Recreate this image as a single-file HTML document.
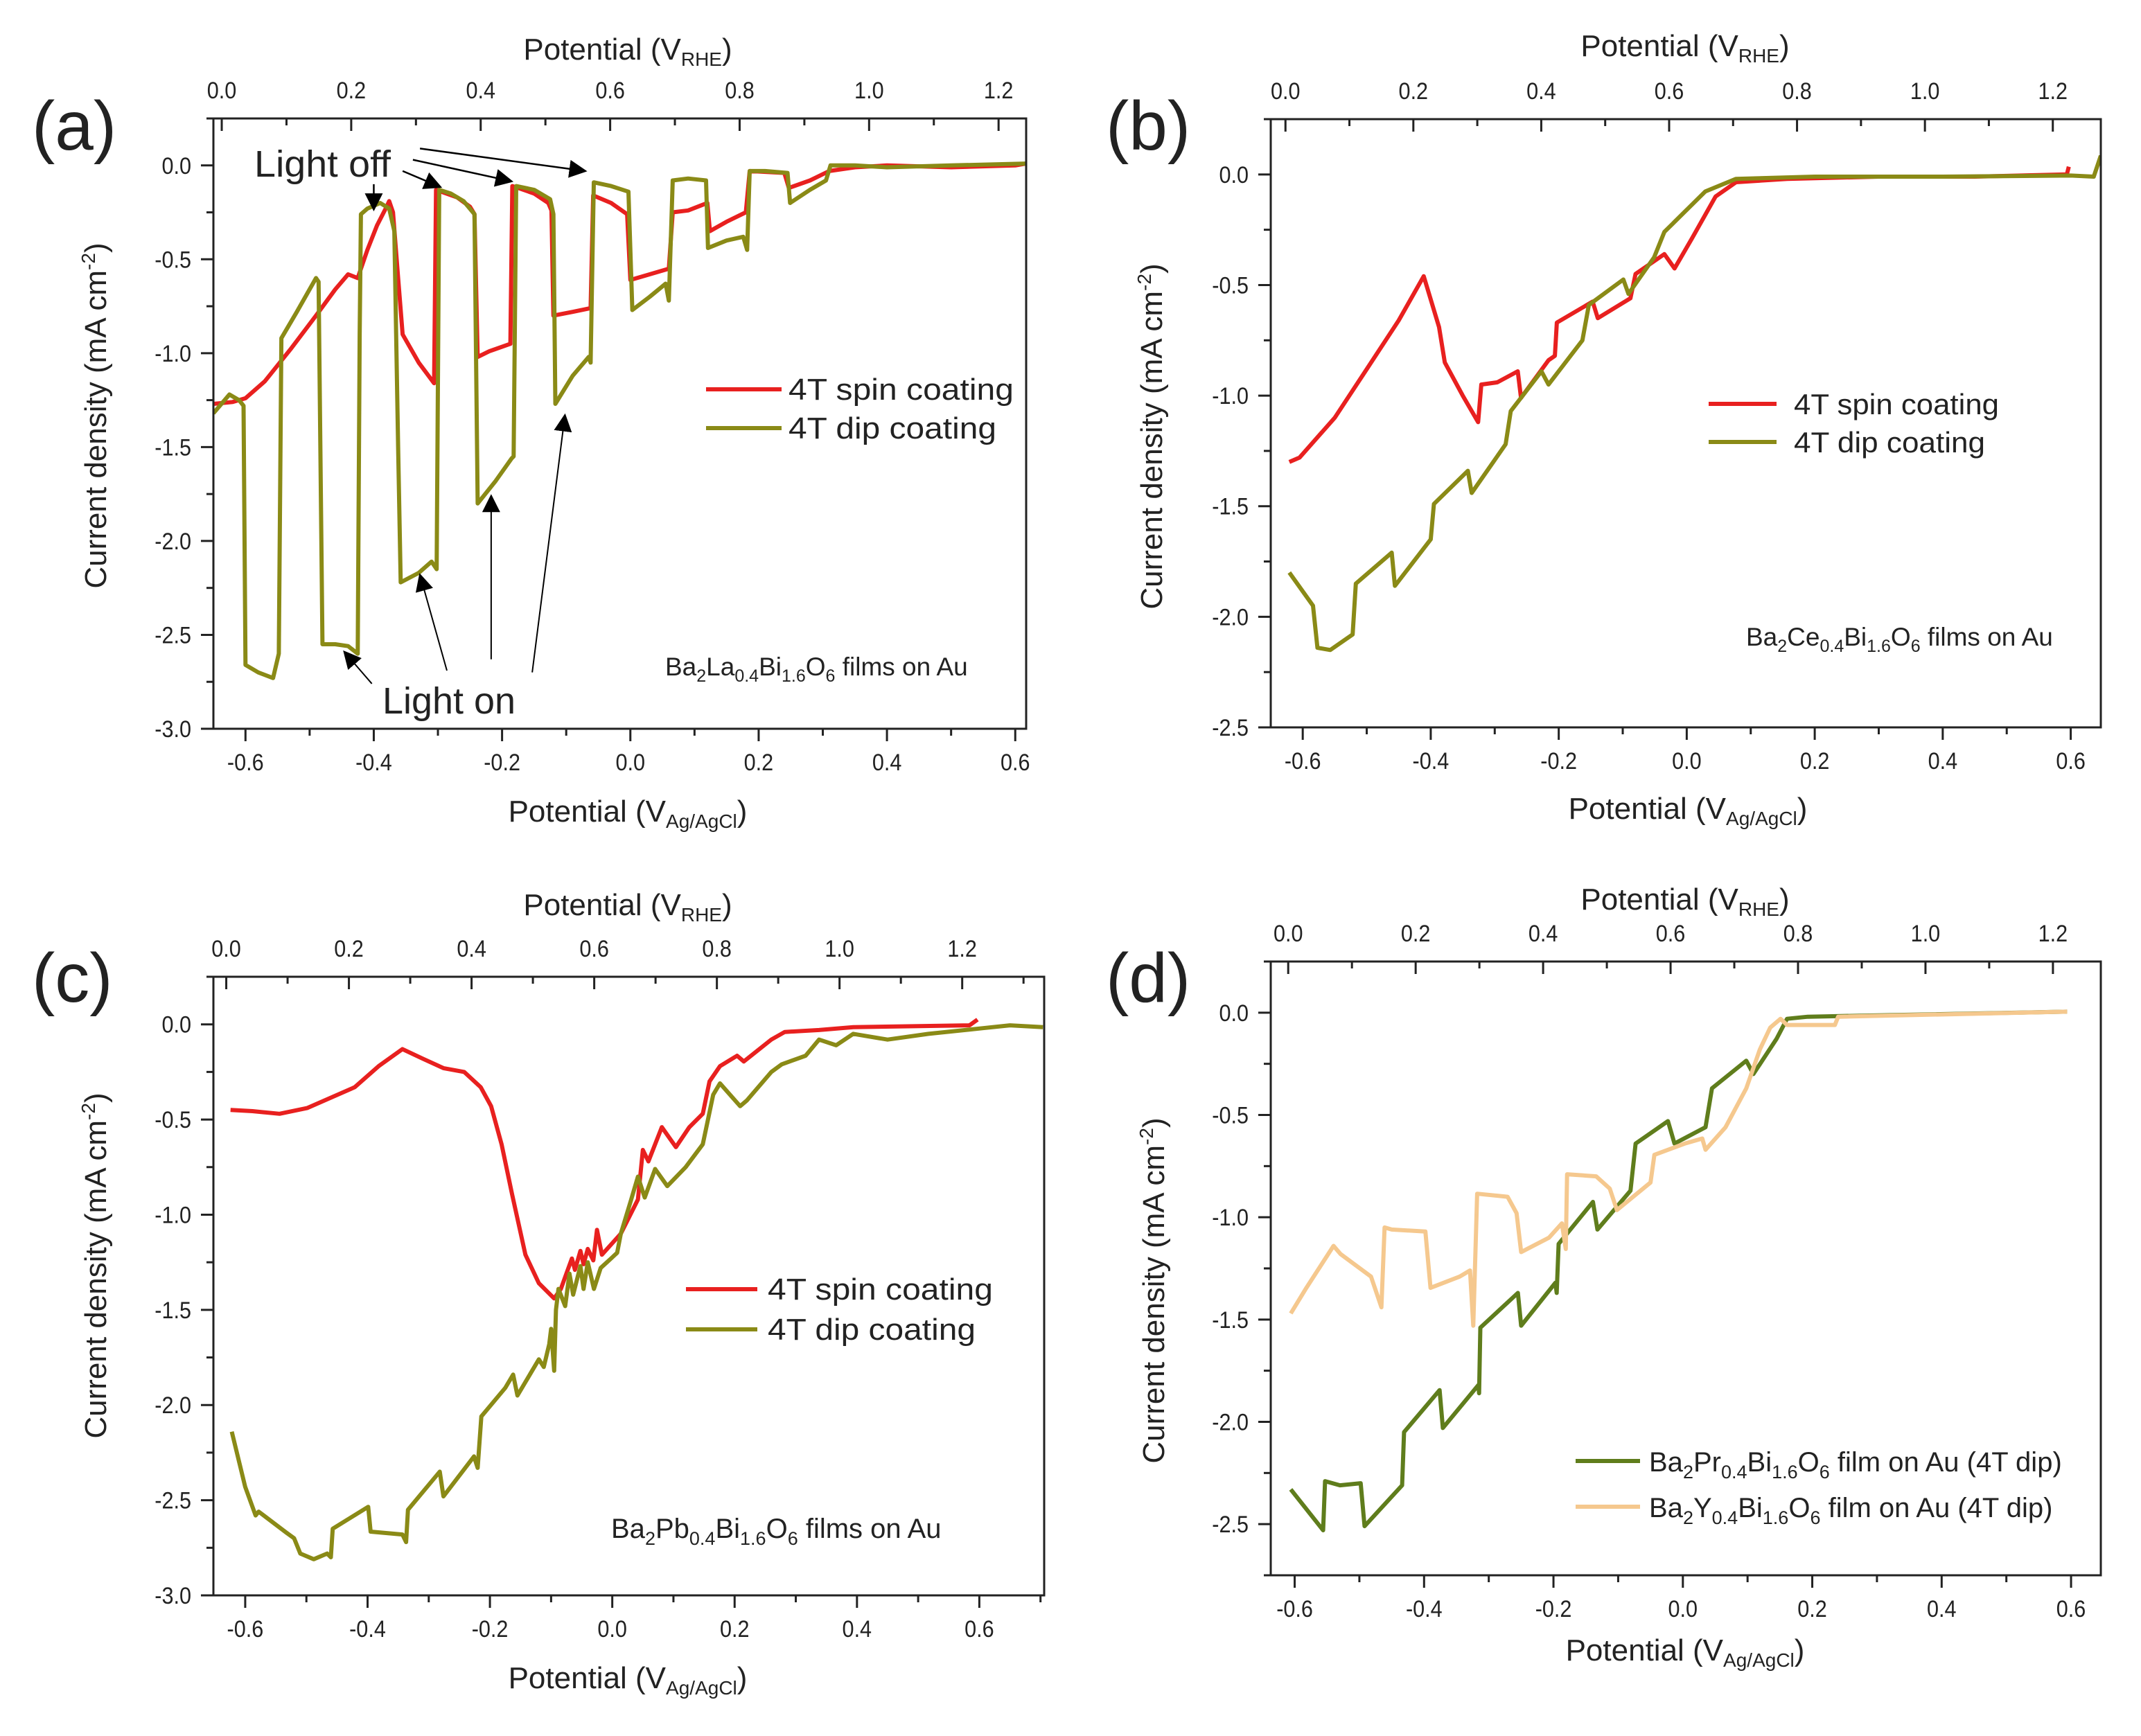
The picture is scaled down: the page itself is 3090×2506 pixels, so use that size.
<!DOCTYPE html>
<html><head><meta charset="utf-8"><style>
html,body{margin:0;padding:0;background:#fff;}
svg{display:block;font-family:"Liberation Sans",Arial,sans-serif;fill:#222;}
</style></head><body>
<svg id="fig" xmlns="http://www.w3.org/2000/svg" width="3090" height="2506" viewBox="0 0 3090 2506">
<defs>
<marker id="ah2" viewBox="0 0 10 10" refX="9" refY="5" markerWidth="26" markerHeight="26" markerUnits="userSpaceOnUse" orient="auto"><path d="M0,0 L10,5 L0,10 z" fill="#000"/></marker>
</defs>
<rect x="0" y="0" width="3090" height="2506" fill="#fff"/>

<g>
<text x="46" y="216" font-size="100">(a)</text>
<text x="906" y="86" font-size="44" text-anchor="middle">Potential (V<tspan font-size="28" dy="9">RHE</tspan><tspan dy="-9">)</tspan></text>
<text x="906" y="1186" font-size="44" text-anchor="middle">Potential (V<tspan font-size="28" dy="9">Ag/AgCl</tspan><tspan dy="-9">)</tspan></text>
<text transform="translate(153,600) rotate(-90)" font-size="44" text-anchor="middle">Current density (mA cm<tspan font-size="28" dy="-16">-2</tspan><tspan dy="16">)</tspan></text>
<text x="960" y="975" font-size="37">Ba<tspan font-size="25" dy="9">2</tspan><tspan dy="-9">La</tspan><tspan font-size="25" dy="9">0.4</tspan><tspan dy="-9">Bi</tspan><tspan font-size="25" dy="9">1.6</tspan><tspan dy="-9">O</tspan><tspan font-size="25" dy="9">6</tspan><tspan dy="-9"> films on Au</tspan></text>
<text x="367" y="255" font-size="54" textLength="197" lengthAdjust="spacingAndGlyphs">Light off</text>
<text x="552" y="1030" font-size="54" textLength="192" lengthAdjust="spacingAndGlyphs">Light on</text>
<text x="1138" y="577" font-size="44" textLength="325" lengthAdjust="spacingAndGlyphs">4T spin coating</text>
<text x="1138" y="633" font-size="44" textLength="300" lengthAdjust="spacingAndGlyphs">4T dip coating</text>
</g>

<g>
<text x="1596" y="216" font-size="100">(b)</text>
<text x="2432" y="81" font-size="44" text-anchor="middle">Potential (V<tspan font-size="28" dy="9">RHE</tspan><tspan dy="-9">)</tspan></text>
<text x="2436" y="1182" font-size="44" text-anchor="middle">Potential (V<tspan font-size="28" dy="9">Ag/AgCl</tspan><tspan dy="-9">)</tspan></text>
<text transform="translate(1677,630) rotate(-90)" font-size="44" text-anchor="middle">Current density (mA cm<tspan font-size="28" dy="-16">-2</tspan><tspan dy="16">)</tspan></text>
<text x="2520" y="932" font-size="37">Ba<tspan font-size="25" dy="9">2</tspan><tspan dy="-9">Ce</tspan><tspan font-size="25" dy="9">0.4</tspan><tspan dy="-9">Bi</tspan><tspan font-size="25" dy="9">1.6</tspan><tspan dy="-9">O</tspan><tspan font-size="25" dy="9">6</tspan><tspan dy="-9"> films on Au</tspan></text>
<text x="2589" y="598" font-size="42" textLength="296" lengthAdjust="spacingAndGlyphs">4T spin coating</text>
<text x="2589" y="653" font-size="42" textLength="276" lengthAdjust="spacingAndGlyphs">4T dip coating</text>
</g>

<g>
<text x="46" y="1446" font-size="100">(c)</text>
<text x="906" y="1321" font-size="44" text-anchor="middle">Potential (V<tspan font-size="28" dy="9">RHE</tspan><tspan dy="-9">)</tspan></text>
<text x="906" y="2437" font-size="44" text-anchor="middle">Potential (V<tspan font-size="28" dy="9">Ag/AgCl</tspan><tspan dy="-9">)</tspan></text>
<text transform="translate(153,1827) rotate(-90)" font-size="44" text-anchor="middle">Current density (mA cm<tspan font-size="28" dy="-16">-2</tspan><tspan dy="16">)</tspan></text>
<text x="882" y="2220" font-size="40">Ba<tspan font-size="27" dy="10">2</tspan><tspan dy="-10">Pb</tspan><tspan font-size="27" dy="10">0.4</tspan><tspan dy="-10">Bi</tspan><tspan font-size="27" dy="10">1.6</tspan><tspan dy="-10">O</tspan><tspan font-size="27" dy="10">6</tspan><tspan dy="-10"> films on Au</tspan></text>
<text x="1108" y="1876" font-size="44" textLength="325" lengthAdjust="spacingAndGlyphs">4T spin coating</text>
<text x="1108" y="1934" font-size="44" textLength="300" lengthAdjust="spacingAndGlyphs">4T dip coating</text>
</g>

<g>
<text x="1596" y="1446" font-size="100">(d)</text>
<text x="2432" y="1313" font-size="44" text-anchor="middle">Potential (V<tspan font-size="28" dy="9">RHE</tspan><tspan dy="-9">)</tspan></text>
<text x="2432" y="2397" font-size="44" text-anchor="middle">Potential (V<tspan font-size="28" dy="9">Ag/AgCl</tspan><tspan dy="-9">)</tspan></text>
<text transform="translate(1680,1863) rotate(-90)" font-size="44" text-anchor="middle">Current density (mA cm<tspan font-size="28" dy="-16">-2</tspan><tspan dy="16">)</tspan></text>
<text x="2380" y="2124" font-size="40">Ba<tspan font-size="27" dy="10">2</tspan><tspan dy="-10">Pr</tspan><tspan font-size="27" dy="10">0.4</tspan><tspan dy="-10">Bi</tspan><tspan font-size="27" dy="10">1.6</tspan><tspan dy="-10">O</tspan><tspan font-size="27" dy="10">6</tspan><tspan dy="-10"> film on Au (4T dip)</tspan></text>
<text x="2380" y="2190" font-size="40">Ba<tspan font-size="27" dy="10">2</tspan><tspan dy="-10">Y</tspan><tspan font-size="27" dy="10">0.4</tspan><tspan dy="-10">Bi</tspan><tspan font-size="27" dy="10">1.6</tspan><tspan dy="-10">O</tspan><tspan font-size="27" dy="10">6</tspan><tspan dy="-10"> film on Au (4T dip)</tspan></text>
</g>
</svg>
<script>
const aSpinX=[-0.65,-0.62,-0.6,-0.57,-0.53,-0.49,-0.46,-0.44,-0.425,-0.41,-0.395,-0.38,-0.376,-0.37,-0.362,-0.355,-0.33,-0.306,-0.303,-0.295,-0.27,-0.25,-0.243,-0.238,-0.22,-0.187,-0.184,-0.175,-0.15,-0.128,-0.123,-0.12,-0.09,-0.062,-0.058,-0.03,-0.005,0.0,0.03,0.06,0.066,0.09,0.12,0.124,0.15,0.18,0.186,0.24,0.247,0.28,0.31,0.35,0.4,0.5,0.6,0.617];
const aSpinY=[-1.27,-1.26,-1.24,-1.15,-0.98,-0.8,-0.66,-0.58,-0.6,-0.45,-0.32,-0.22,-0.19,-0.25,-0.6,-0.9,-1.05,-1.16,-0.13,-0.14,-0.17,-0.22,-0.26,-1.02,-0.99,-0.95,-0.11,-0.12,-0.15,-0.2,-0.24,-0.8,-0.78,-0.76,-0.16,-0.2,-0.26,-0.61,-0.58,-0.55,-0.25,-0.24,-0.2,-0.35,-0.3,-0.25,-0.03,-0.04,-0.12,-0.08,-0.03,-0.01,0,-0.01,0,0.01];
const aDipX=[-0.65,-0.625,-0.61,-0.603,-0.6,-0.58,-0.557,-0.548,-0.544,-0.52,-0.49,-0.486,-0.48,-0.46,-0.44,-0.425,-0.422,-0.42,-0.41,-0.39,-0.376,-0.368,-0.362,-0.358,-0.33,-0.31,-0.302,-0.298,-0.28,-0.26,-0.243,-0.238,-0.21,-0.185,-0.182,-0.178,-0.15,-0.125,-0.12,-0.117,-0.09,-0.065,-0.062,-0.057,-0.03,-0.003,0.003,0.03,0.055,0.06,0.064,0.066,0.09,0.118,0.121,0.15,0.176,0.182,0.186,0.21,0.245,0.249,0.28,0.305,0.312,0.35,0.4,0.5,0.617];
const aDipY=[-1.32,-1.22,-1.25,-1.28,-2.66,-2.7,-2.73,-2.6,-0.92,-0.78,-0.6,-0.62,-2.55,-2.55,-2.56,-2.6,-0.9,-0.26,-0.23,-0.2,-0.23,-0.35,-1.5,-2.22,-2.17,-2.11,-2.15,-0.13,-0.15,-0.19,-0.26,-1.8,-1.68,-1.56,-1.55,-0.11,-0.13,-0.18,-0.26,-1.27,-1.12,-1.02,-1.05,-0.09,-0.11,-0.14,-0.77,-0.7,-0.63,-0.72,-0.3,-0.08,-0.07,-0.08,-0.44,-0.4,-0.38,-0.45,-0.03,-0.03,-0.04,-0.2,-0.13,-0.08,0,0,-0.01,0,0.01];

const bSpinX=[-0.621,-0.605,-0.55,-0.5,-0.45,-0.411,-0.387,-0.378,-0.35,-0.326,-0.321,-0.296,-0.264,-0.259,-0.216,-0.206,-0.203,-0.147,-0.139,-0.088,-0.08,-0.035,-0.019,0.008,0.045,0.077,0.157,0.3,0.45,0.594,0.597];
const bSpinY=[-1.30,-1.28,-1.1,-0.88,-0.66,-0.46,-0.69,-0.85,-1.0,-1.12,-0.95,-0.94,-0.89,-1.01,-0.84,-0.82,-0.67,-0.575,-0.65,-0.56,-0.45,-0.36,-0.425,-0.29,-0.1,-0.035,-0.02,-0.01,-0.01,0.0,0.035];
const bDipX=[-0.621,-0.584,-0.577,-0.557,-0.522,-0.517,-0.461,-0.456,-0.4,-0.395,-0.342,-0.336,-0.283,-0.275,-0.227,-0.216,-0.163,-0.153,-0.099,-0.091,-0.051,-0.035,0.029,0.077,0.2,0.4,0.6,0.636,0.647];
const bDipY=[-1.80,-1.95,-2.14,-2.15,-2.08,-1.85,-1.71,-1.86,-1.65,-1.49,-1.34,-1.44,-1.22,-1.07,-0.89,-0.95,-0.75,-0.59,-0.475,-0.54,-0.375,-0.26,-0.077,-0.02,-0.01,-0.01,-0.005,-0.01,0.085];

const cSpinX=[-0.624,-0.588,-0.544,-0.499,-0.421,-0.382,-0.343,-0.31,-0.276,-0.242,-0.215,-0.198,-0.181,-0.164,-0.142,-0.12,-0.095,-0.084,-0.075,-0.066,-0.061,-0.052,-0.047,-0.04,-0.031,-0.025,-0.017,0.014,0.042,0.05,0.059,0.081,0.104,0.126,0.148,0.159,0.176,0.204,0.215,0.26,0.282,0.338,0.394,0.584,0.597];
const cSpinY=[-0.45,-0.456,-0.47,-0.44,-0.33,-0.22,-0.13,-0.18,-0.23,-0.25,-0.33,-0.43,-0.63,-0.89,-1.21,-1.36,-1.44,-1.39,-1.31,-1.23,-1.29,-1.19,-1.26,-1.18,-1.24,-1.08,-1.21,-1.10,-0.92,-0.66,-0.72,-0.54,-0.645,-0.54,-0.47,-0.30,-0.22,-0.165,-0.195,-0.08,-0.04,-0.03,-0.015,-0.005,0.025];
const cDipX=[-0.622,-0.6,-0.583,-0.578,-0.533,-0.52,-0.51,-0.488,-0.466,-0.46,-0.457,-0.399,-0.395,-0.343,-0.337,-0.334,-0.282,-0.276,-0.226,-0.22,-0.214,-0.175,-0.162,-0.155,-0.12,-0.112,-0.103,-0.1,-0.095,-0.092,-0.088,-0.077,-0.07,-0.064,-0.052,-0.047,-0.04,-0.03,-0.019,-0.002,0.008,0.014,0.031,0.042,0.053,0.07,0.09,0.12,0.148,0.165,0.176,0.209,0.22,0.26,0.277,0.316,0.338,0.366,0.394,0.45,0.517,0.606,0.65,0.704];
const cDipY=[-2.14,-2.43,-2.58,-2.56,-2.67,-2.7,-2.78,-2.81,-2.78,-2.8,-2.65,-2.535,-2.665,-2.68,-2.72,-2.55,-2.35,-2.48,-2.27,-2.33,-2.06,-1.91,-1.84,-1.95,-1.76,-1.8,-1.68,-1.6,-1.82,-1.5,-1.39,-1.48,-1.31,-1.42,-1.27,-1.39,-1.25,-1.39,-1.28,-1.23,-1.2,-1.10,-0.92,-0.80,-0.91,-0.76,-0.85,-0.75,-0.63,-0.37,-0.31,-0.43,-0.40,-0.25,-0.21,-0.165,-0.08,-0.11,-0.05,-0.08,-0.05,-0.02,-0.005,-0.015];

const dPrX=[-0.606,-0.556,-0.553,-0.53,-0.498,-0.492,-0.434,-0.431,-0.376,-0.371,-0.316,-0.315,-0.313,-0.255,-0.25,-0.197,-0.195,-0.192,-0.139,-0.132,-0.081,-0.073,-0.023,-0.013,0.035,0.045,0.098,0.109,0.145,0.161,0.193,0.32,0.594];
const dPrY=[-2.33,-2.53,-2.29,-2.31,-2.30,-2.51,-2.31,-2.05,-1.845,-2.03,-1.82,-1.86,-1.54,-1.37,-1.53,-1.32,-1.37,-1.13,-0.925,-1.06,-0.87,-0.64,-0.53,-0.64,-0.56,-0.37,-0.235,-0.30,-0.127,-0.03,-0.02,-0.012,0.005];
const dYX=[-0.606,-0.582,-0.54,-0.529,-0.482,-0.466,-0.461,-0.45,-0.398,-0.39,-0.345,-0.329,-0.324,-0.318,-0.271,-0.257,-0.25,-0.207,-0.187,-0.181,-0.179,-0.134,-0.113,-0.102,-0.05,-0.044,0.003,0.03,0.035,0.066,0.098,0.119,0.135,0.151,0.161,0.235,0.24,0.594];
const dYY=[-1.47,-1.345,-1.14,-1.18,-1.29,-1.44,-1.05,-1.06,-1.07,-1.345,-1.29,-1.26,-1.53,-0.885,-0.90,-0.98,-1.17,-1.10,-1.03,-1.155,-0.79,-0.80,-0.86,-0.965,-0.83,-0.695,-0.64,-0.615,-0.67,-0.56,-0.37,-0.18,-0.073,-0.03,-0.06,-0.06,-0.02,0.005];

const xTickLabels=["-0.6","-0.4","-0.2","0.0","0.2","0.4","0.6"];
const rheTickLabels=["0.0","0.2","0.4","0.6","0.8","1.0","1.2"];
const yTickLabels3=["0.0","-0.5","-1.0","-1.5","-2.0","-2.5","-3.0"];
const yTickLabels25=["0.0","-0.5","-1.0","-1.5","-2.0","-2.5"];

const lightOffArrows=[[-0.40,-0.10,-0.40,-0.235],[-0.355,-0.03,-0.296,-0.115],[-0.339,0.03,-0.185,-0.085],[-0.328,0.09,-0.07,-0.03]];
const lightOnArrows=[[-0.403,-2.76,-0.446,-2.59],[-0.286,-2.69,-0.328,-2.18],[-0.217,-2.63,-0.217,-1.76],[-0.153,-2.70,-0.102,-1.33]];

const NS="http://www.w3.org/2000/svg";
const svg=document.getElementById('fig');
function el(tag,attrs,parent){const e=document.createElementNS(NS,tag);for(const k in attrs)e.setAttribute(k,attrs[k]);(parent||svg).appendChild(e);return e;}

function tickText(g,x,y,s,anchor){
  const tx=el('text',{x:x,y:y,'font-size':34,'text-anchor':anchor,transform:'translate('+x+','+y+') scale(0.9,1) translate('+(-x)+','+(-y)+')'},g);
  tx.textContent=s;
  return tx;
}

function panel(id,cfg){
  const g=el('g',{});
  
  
  const sx=v=>cfg.L+(v-cfg.x0)/(cfg.x1-cfg.x0)*(cfg.R-cfg.L);
  const sy=v=>cfg.T+(cfg.y1-v)/(cfg.y1-cfg.y0)*(cfg.B-cfg.T);
  const rx=r=>sx(cfg.r0+r*(cfg.r12-cfg.r0)/1.2);
  const clip=el('clipPath',{id:'clip-'+id},g);
  el('rect',{x:cfg.L,y:cfg.T,width:cfg.R-cfg.L,height:cfg.B-cfg.T},clip);
  xTickLabels.forEach(s=>{
    const v=parseFloat(s),x=sx(v);
    const t=el('line',{x1:x,x2:x,y1:cfg.B,y2:cfg.B+18,stroke:'#222','stroke-width':3},g);
    
    
    const m=sx(v+0.1);
    if(v+0.1<=cfg.x1){const mt=el('line',{x1:m,x2:m,y1:cfg.B,y2:cfg.B+10,stroke:'#222','stroke-width':3},g);
      
      }
    const tx=tickText(g,x,cfg.B+60,s,'middle');
    
    
  });
  cfg.yLabels.forEach(s=>{
    const v=parseFloat(s),y=sy(v);
    const t=el('line',{x1:cfg.L-18,x2:cfg.L,y1:y,y2:y,stroke:'#222','stroke-width':3},g);
    
    
    if(v-0.25>=cfg.y0-0.001){const my=sy(v-0.25);
      const mt=el('line',{x1:cfg.L-10,x2:cfg.L,y1:my,y2:my,stroke:'#222','stroke-width':3},g);
      
      }
    if(v===0){const my2=sy(0.25);const mt2=el('line',{x1:cfg.L-10,x2:cfg.L,y1:my2,y2:my2,stroke:'#222','stroke-width':3},g);
      
      }
    const tx=tickText(g,cfg.L-32,y+12,s,'end');
    
    
  });
  rheTickLabels.forEach(s=>{
    const r=parseFloat(s),x=rx(r);
    const t=el('line',{x1:x,x2:x,y1:cfg.T,y2:cfg.T+18,stroke:'#222','stroke-width':3},g);
    
    
    const m=rx(r+0.1);
    if(m<cfg.R-4){const mt=el('line',{x1:m,x2:m,y1:cfg.T,y2:cfg.T+10,stroke:'#222','stroke-width':3},g);
      
      }
    const tx=tickText(g,x,cfg.T-29,s,'middle');
    
    
  });
  cfg.series.forEach(s=>{
    const pts=s.x.map((v,i)=>sx(v).toFixed(1)+','+sy(s.y[i]).toFixed(1)).join(' ');
    const p=el('polyline',{points:pts,fill:'none',stroke:s.color,'stroke-width':6,'stroke-linejoin':'round','clip-path':'url(#clip-'+id+')'},g);
    
    
  });
  const fr=el('rect',{x:cfg.L,y:cfg.T,width:cfg.R-cfg.L,height:cfg.B-cfg.T,fill:'none',stroke:'#222','stroke-width':3},g);
  
  
  cfg.legend.forEach(l=>{
    const ln=el('line',{x1:l.x1,x2:l.x2,y1:l.y,y2:l.y,stroke:l.color,'stroke-width':6},g);
    
    
  });
  return {sx,sy,g};
}

const RED='#e8201f', OLIVE='#8a8a16', GREEN='#5f7d1c', PEACH='#f5c88e';

const pa=panel('a',{L:308,R:1481,T:171,B:1052,x0:-0.65,x1:0.617,y0:-3.0,y1:0.25,r0:-0.637,r12:0.574,yLabels:yTickLabels3,
  series:[{x:aSpinX,y:aSpinY,color:RED,name:'series-a-spin-coating'},{x:aDipX,y:aDipY,color:OLIVE,name:'series-a-dip-coating'}],
  legend:[{x1:1019,x2:1128,y:562,color:RED,name:'legend-a-spin-line'},{x1:1019,x2:1128,y:618,color:OLIVE,name:'legend-a-dip-line'}]});
const pb=panel('b',{L:1834,R:3032,T:172,B:1050,x0:-0.65,x1:0.647,y0:-2.5,y1:0.25,r0:-0.627,r12:0.572,yLabels:yTickLabels25,
  series:[{x:bSpinX,y:bSpinY,color:RED,name:'series-b-spin-coating'},{x:bDipX,y:bDipY,color:OLIVE,name:'series-b-dip-coating'}],
  legend:[{x1:2466,x2:2564,y:583,color:RED,name:'legend-b-spin-line'},{x1:2466,x2:2564,y:638,color:OLIVE,name:'legend-b-dip-line'}]});
const pc=panel('c',{L:308,R:1507,T:1410,B:2303,x0:-0.652,x1:0.706,y0:-3.0,y1:0.25,r0:-0.631,r12:0.572,yLabels:yTickLabels3,
  series:[{x:cSpinX,y:cSpinY,color:RED,name:'series-c-spin-coating'},{x:cDipX,y:cDipY,color:OLIVE,name:'series-c-dip-coating'}],
  legend:[{x1:990,x2:1093,y:1861,color:RED,name:'legend-c-spin-line'},{x1:990,x2:1093,y:1919,color:OLIVE,name:'legend-c-dip-line'}]});
const pd=panel('d',{L:1834,R:3032,T:1388,B:2274,x0:-0.637,x1:0.646,y0:-2.75,y1:0.25,r0:-0.61,r12:0.572,yLabels:yTickLabels25,
  series:[{x:dPrX,y:dPrY,color:GREEN,name:'series-d-pr-film'},{x:dYX,y:dYY,color:PEACH,name:'series-d-y-film'}],
  legend:[{x1:2274,x2:2367,y:2109,color:GREEN,name:'legend-d-pr-line'},{x1:2274,x2:2367,y:2175,color:PEACH,name:'legend-d-y-line'}]});

lightOffArrows.forEach(a=>{
  const l=el('line',{x1:pa.sx(a[0]),y1:pa.sy(a[1]),x2:pa.sx(a[2]),y2:pa.sy(a[3]),stroke:'#000','stroke-width':2.5,'marker-end':'url(#ah2)'});
  
  
});
lightOnArrows.forEach(a=>{
  const l=el('line',{x1:pa.sx(a[0]),y1:pa.sy(a[1]),x2:pa.sx(a[2]),y2:pa.sy(a[3]),stroke:'#000','stroke-width':2,'marker-end':'url(#ah2)'});
  
  
});
</script>
</body></html>
